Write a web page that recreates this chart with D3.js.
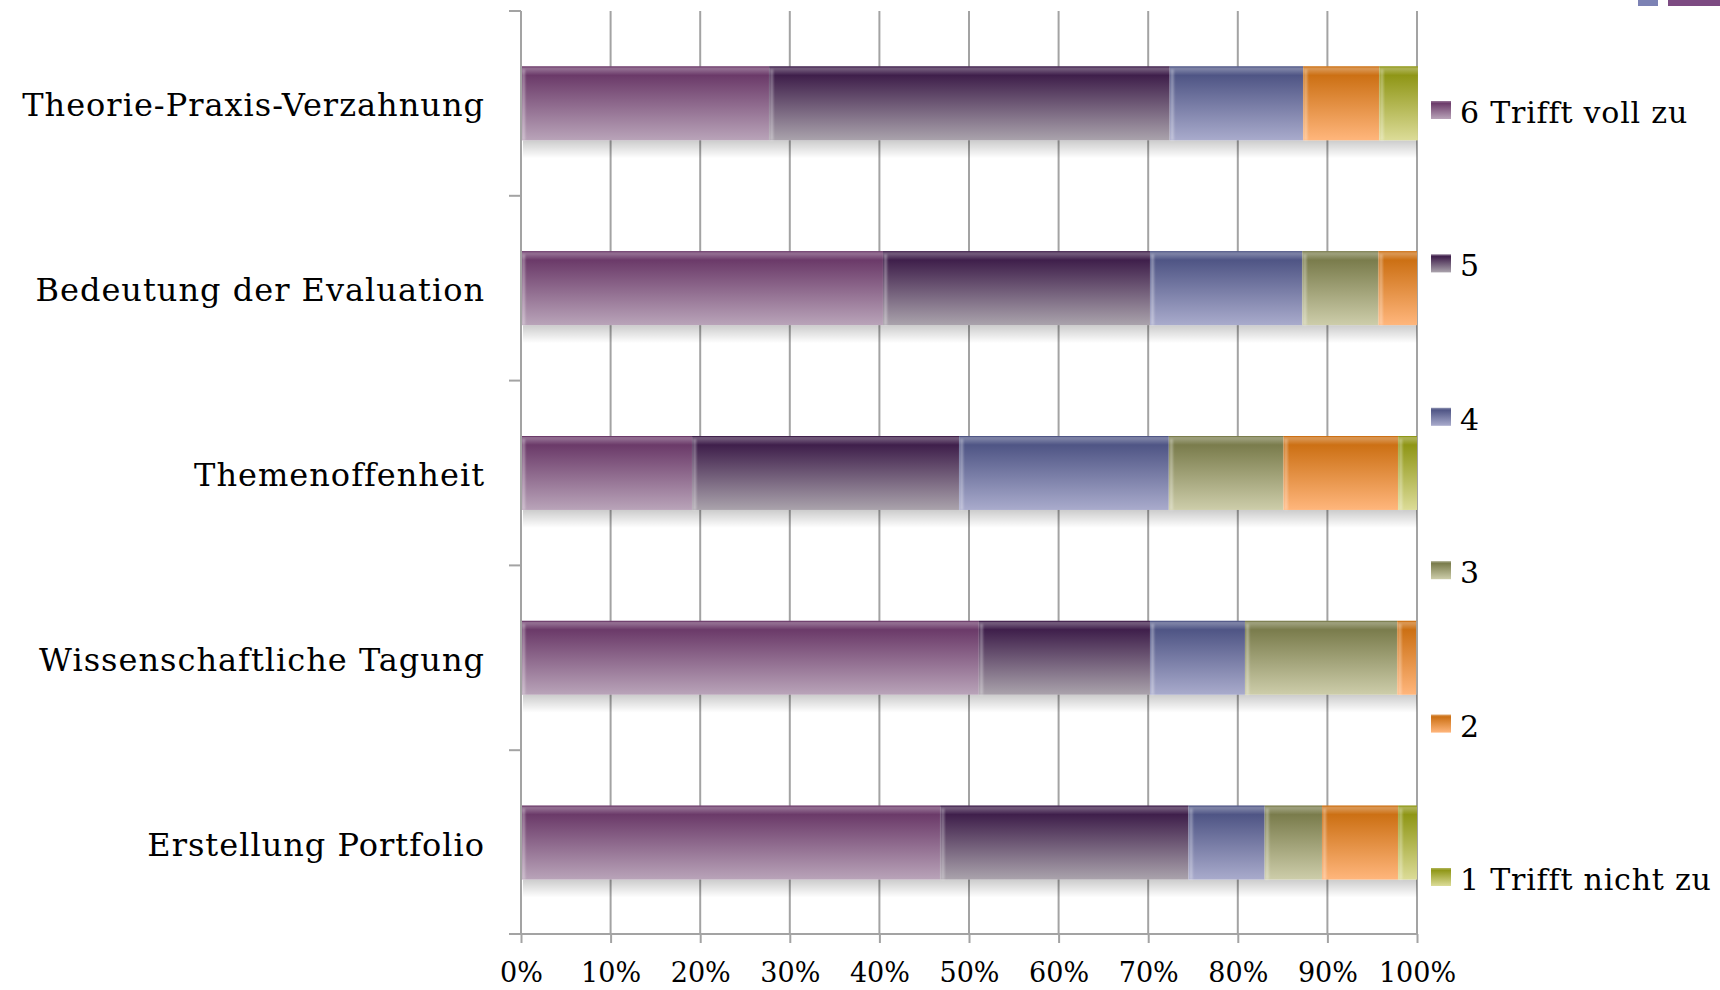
<!DOCTYPE html>
<html>
<head>
<meta charset="utf-8">
<script src="https://cdn.jsdelivr.net/npm/d3@7"></script>
<style>
  html, body { margin: 0; padding: 0; background: #fff; }
  svg { display: block; }
  text { font-family: "DejaVu Serif", serif; fill: #000; }
</style>
</head>
<body>
<svg id="chart" width="1720" height="990"></svg>
<script>
// ---- data (percent of responses) ----
const categories = ["Theorie-Praxis-Verzahnung", "Bedeutung der Evaluation", "Themenoffenheit", "Wissenschaftliche Tagung", "Erstellung Portfolio"];
const seriesKeys = ["s6", "s5", "s4", "s3", "s2", "s1"];
const seriesLabels = ["6 Trifft voll zu", "5", "4", "3", "2", "1 Trifft nicht zu"];
const s6 = [27.7, 40.4, 19.1, 51.1, 46.8];
const s5 = [44.7, 29.8, 29.8, 19.1, 27.7];
const s4 = [14.9, 17.0, 23.4, 10.6, 8.5];
const s3 = [0.0, 8.5, 12.8, 17.0, 6.4];
const s2 = [8.5, 4.3, 12.8, 2.1, 8.5];
const s1 = [4.3, 0.0, 2.1, 0.0, 2.1];
const xTickValues = [0, 10, 20, 30, 40, 50, 60, 70, 80, 90, 100];

// ---- styles ----
const topColors = ["#6b3a69", "#3f1f4b", "#4f5585", "#7a7c4c", "#cc7014", "#8f9616"];
const bottomColors = ["#b9a4b9", "#aaa3ac", "#a9abcc", "#cdcdaa", "#ffb67c", "#dcdc98"];

const seriesData = { s6, s5, s4, s3, s2, s1 };
const table = categories.map((c, i) => {
  const row = { category: c };
  seriesKeys.forEach(k => row[k] = seriesData[k][i]);
  return row;
});

const svg = d3.select("#chart");
const defs = svg.append("defs");

const x = d3.scaleLinear().domain([0, 100]).range([521, 1417]);
const y = d3.scaleBand().domain(categories).range([11, 935]).paddingInner(0.6).paddingOuter(0.3);

// gradients
seriesKeys.forEach((k, i) => {
  const g = defs.append("linearGradient").attr("id", "grad-" + k)
    .attr("x1", 0).attr("y1", 0).attr("x2", 0).attr("y2", 1);
  const top = d3.color(topColors[i]);
  const lighter = d3.interpolateRgb(topColors[i], "#ffffff")(0.25);
  g.append("stop").attr("offset", "0%").attr("stop-color", lighter);
  g.append("stop").attr("offset", "4%").attr("stop-color", lighter);
  g.append("stop").attr("offset", "12%").attr("stop-color", top.formatHex());
  g.append("stop").attr("offset", "100%").attr("stop-color", bottomColors[i]);
});
const sg = defs.append("linearGradient").attr("id", "shadow").attr("x1", 0).attr("y1", 0).attr("x2", 0).attr("y2", 1);
sg.append("stop").attr("offset", "0%").attr("stop-color", "#000").attr("stop-opacity", 0.2);
sg.append("stop").attr("offset", "100%").attr("stop-color", "#000").attr("stop-opacity", 0);

const blur = defs.append("filter").attr("id", "soft").attr("x", "-50%").attr("width", "200%");
blur.append("feGaussianBlur").attr("stdDeviation", 1.2);

// gridlines
const gridColor = "#a3a3a3";
svg.append("g").selectAll("line").data(xTickValues.slice(1)).join("line")
  .attr("x1", d => x(d)).attr("x2", d => x(d))
  .attr("y1", 11).attr("y2", 935)
  .attr("stroke", gridColor).attr("stroke-width", 2);

// bar shadows
svg.append("g").selectAll("rect").data(table).join("rect")
  .attr("x", x(0) + 2).attr("width", x(100) - x(0) - 2)
  .attr("y", d => y(d.category) + y.bandwidth())
  .attr("height", 18)
  .attr("fill", "url(#shadow)");

// stacked bars
const stack = d3.stack().keys(seriesKeys)(table);
const layers = svg.append("g").selectAll("g").data(stack).join("g")
  .attr("fill", d => "url(#grad-" + d.key + ")");
layers.selectAll("rect").data(d => d.filter(p => p[1] - p[0] > 0).map(p => ({ p, key: d.key }))).join("rect")
  .attr("x", d => x(d.p[0]))
  .attr("width", d => x(d.p[1]) - x(d.p[0]))
  .attr("y", d => y(d.p.data.category))
  .attr("height", y.bandwidth());

// left-edge highlights of segments
layers.selectAll("rect.hl").data(d => d.filter(p => p[1] - p[0] > 0).map(p => ({ p, key: d.key }))).join("rect")
  .attr("class", "hl")
  .attr("x", d => x(d.p[0]) + 1)
  .attr("width", 3)
  .attr("y", d => y(d.p.data.category) + 3)
  .attr("height", y.bandwidth() - 3)
  .attr("fill", "#ffffff").attr("opacity", 0.35)
  .attr("filter", "url(#soft)");

// top edge line
layers.selectAll("line.top").data(d => d.filter(p => p[1] - p[0] > 0).map(p => ({ p, key: d.key }))).join("line")
  .attr("class", "top")
  .attr("x1", d => x(d.p[0])).attr("x2", d => x(d.p[1]))
  .attr("y1", d => y(d.p.data.category) + 0.5).attr("y2", d => y(d.p.data.category) + 0.5)
  .attr("stroke", d => topColors[seriesKeys.indexOf(d.key)])
  .attr("stroke-width", 1);

// bottom axis
const xAxis = d3.axisBottom(x).tickValues(xTickValues).tickFormat(d => d + "%").tickSize(9).tickSizeOuter(0);
const gx = svg.append("g").attr("transform", "translate(0,934)").call(xAxis);
gx.select(".domain").remove();
gx.selectAll(".tick line").attr("stroke", gridColor).attr("stroke-width", 2);
gx.selectAll(".tick text").attr("y", 29).attr("font-size", 27).attr("font-family", "DejaVu Serif").attr("fill", "#000");
gx.append("line").attr("x1", 509).attr("x2", x(100)).attr("y1", 0).attr("y2", 0)
  .attr("stroke", gridColor).attr("stroke-width", 2);

// left axis (category axis with ticks between bands)
const step = y.step();
const boundaries = d3.range(categories.length + 1).map(i => y(categories[0]) - y.paddingOuter() * step + i * step);
const gy = svg.append("g");
gy.append("line").attr("x1", x(0)).attr("x2", x(0)).attr("y1", boundaries[0]).attr("y2", 935)
  .attr("stroke", gridColor).attr("stroke-width", 2);
gy.selectAll("line.t").data(boundaries.slice(0, -1)).join("line").attr("class", "t")
  .attr("x1", 509).attr("x2", x(0)).attr("y1", d => d).attr("y2", d => d)
  .attr("stroke", gridColor).attr("stroke-width", 2);

// category labels
svg.append("g").selectAll("text").data(categories).join("text")
  .attr("x", 485)
  .attr("y", d => y(d) + y.bandwidth() / 2 + 13)
  .attr("text-anchor", "end")
  .attr("font-size", 32)
  .attr("letter-spacing", 1.0)
  .text(d => d);

// legend
const legendY = d3.scalePoint().domain(seriesLabels).range([110, 877]);
const lg = svg.append("g").selectAll("g").data(seriesLabels).join("g")
  .attr("transform", d => `translate(1431,${legendY(d)})`);
lg.append("rect").attr("x", 0).attr("y", -9).attr("width", 20).attr("height", 18)
  .attr("fill", (d, i) => "url(#grad-" + seriesKeys[i] + ")");
lg.append("text").attr("x", 29).attr("y", 13).attr("font-size", 30).attr("letter-spacing", 0.8).text(d => d);

// decorative slide accents in top-right corner
svg.append("rect").attr("x", 1638).attr("y", 0).attr("width", 20).attr("height", 6).attr("fill", "#7c82b4");
svg.append("rect").attr("x", 1668).attr("y", 0).attr("width", 52).attr("height", 6).attr("fill", "#7d4b82");
</script>
</body>
</html>
